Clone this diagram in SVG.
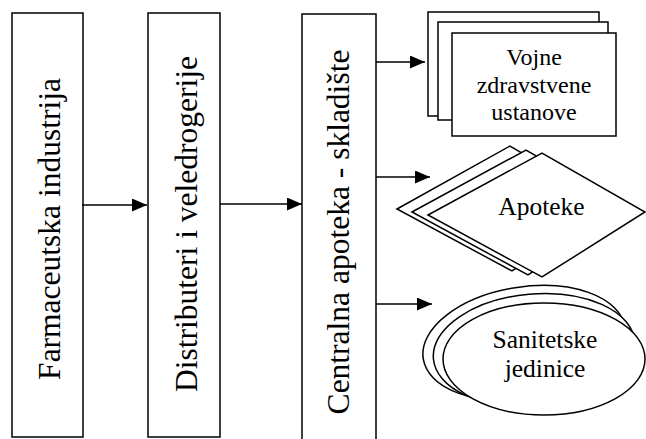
<svg xmlns="http://www.w3.org/2000/svg" width="646" height="439" viewBox="0 0 646 439">
<defs>
<style>
.box{fill:#fff;stroke:#000;stroke-width:1.5}
.ln{stroke:#000;stroke-width:1.4;fill:none}
text{font-family:'Liberation Serif','Times New Roman',serif;fill:#000;text-anchor:middle}
.big{font-size:31.5px}
.sm{font-size:24px}
.md{font-size:25.5px}
</style>
<marker id="ah" markerUnits="userSpaceOnUse" markerWidth="16" markerHeight="14" refX="15" refY="6.5" orient="auto">
<path d="M0,0 L15,6.5 L0,13 z" fill="#000"/>
</marker>
</defs>
<rect width="646" height="439" fill="#fff"/>
<g id="farmaceutska">
<rect class="box" x="12" y="13" width="71" height="424"/>
<text class="big" transform="translate(60,229) rotate(-90)">Farmaceutska industrija</text>
</g>
<g id="distributeri">
<rect class="box" x="148" y="13" width="72" height="424"/>
<text class="big" transform="translate(197,224) rotate(-90)">Distributeri i veledrogerije</text>
</g>
<g id="centralna">
<rect class="box" x="302" y="14" width="74" height="440"/>
<text class="big" transform="translate(349,232) rotate(-90)">Centralna apoteka - skladište</text>
</g>
<g id="vojne">
<rect class="box" x="428" y="12" width="171" height="104"/>
<rect class="box" x="438" y="22" width="170" height="98"/>
<rect class="box" x="452" y="33" width="164" height="103"/>
<text class="sm" x="534" y="65">Vojne</text>
<text class="sm" x="534" y="93">zdravstvene</text>
<text class="sm" x="534" y="120">ustanove</text>
</g>
<g id="apoteke">
<polygon class="box" points="397,209 510,146 613,206 512,271"/>
<polygon class="box" points="412,212 526,150 629,209 528,275"/>
<polygon class="box" points="428,215 542,153 645,212 542,277"/>
<text class="md" x="541.5" y="215">Apoteke</text>
</g>
<g id="sanitetske">
<ellipse class="box" cx="524" cy="343" rx="102" ry="56" transform="rotate(-9 524 343)"/>
<ellipse class="box" cx="534" cy="350" rx="101" ry="56" transform="rotate(-5 534 350)"/>
<ellipse class="box" cx="544" cy="359" rx="101" ry="56"/>
<text class="md" x="545" y="348">Sanitetske</text>
<text class="md" x="545" y="377">jedinice</text>
</g>
<g id="connectors">
<line class="ln" x1="82" y1="205" x2="147" y2="205" marker-end="url(#ah)"/>
<line class="ln" x1="220" y1="204" x2="302" y2="204" marker-end="url(#ah)"/>
<line class="ln" x1="376" y1="62" x2="425" y2="62" marker-end="url(#ah)"/>
<line class="ln" x1="376" y1="177" x2="430" y2="177" marker-end="url(#ah)"/>
<line class="ln" x1="376" y1="304" x2="432" y2="304" marker-end="url(#ah)"/>
</g>
</svg>
